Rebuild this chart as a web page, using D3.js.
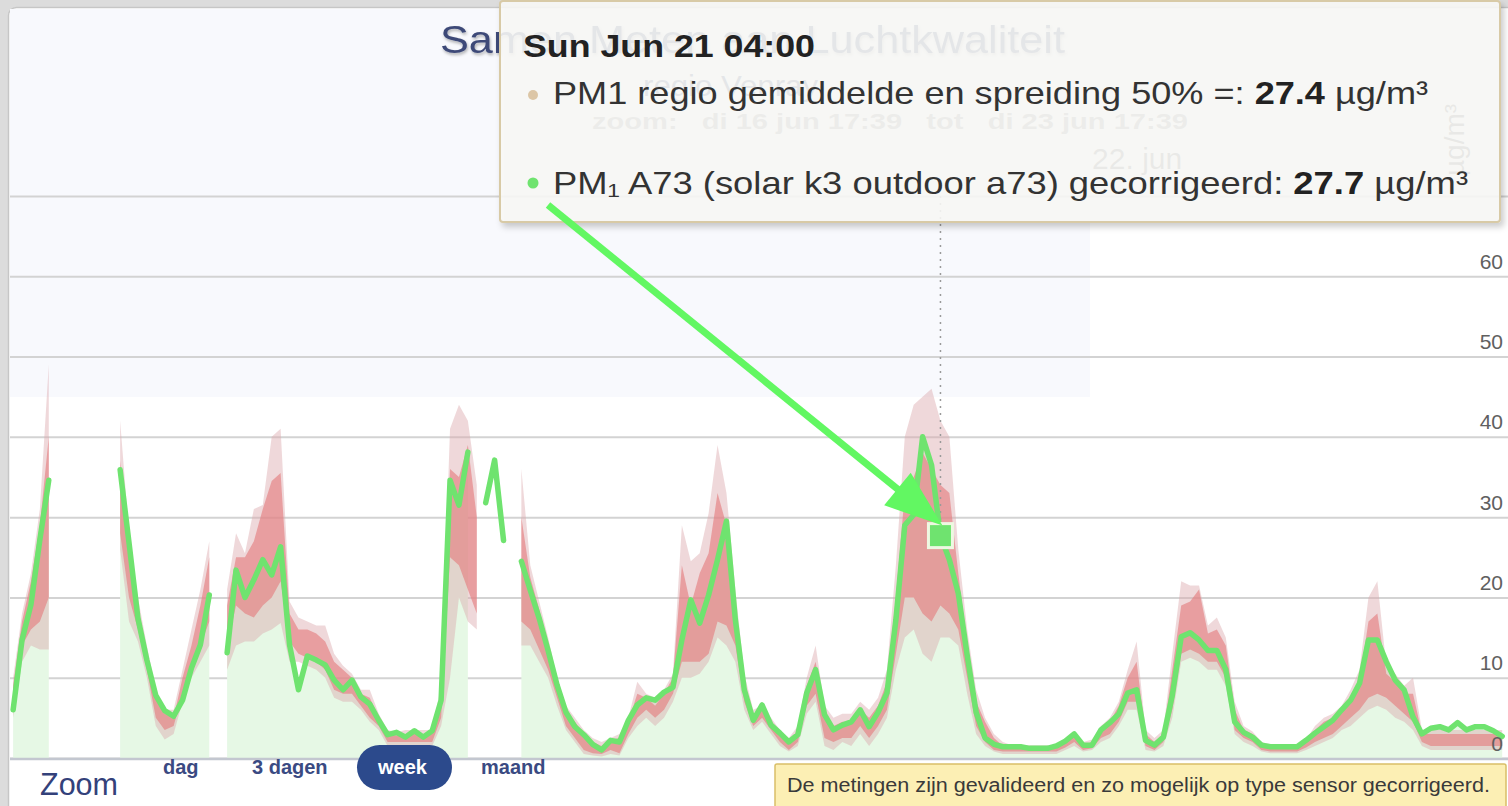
<!DOCTYPE html>
<html><head><meta charset="utf-8">
<script src="https://cdn.jsdelivr.net/npm/d3@7"></script>
<style>
html,body{margin:0;padding:0;background:#dcdcdc;overflow:hidden;}
svg{display:block;font-family:"Liberation Sans",Arial,sans-serif;}
</style></head><body>
<svg id="chart" width="1508" height="806"></svg>
<script>
// ---------- DATA ----------
const rangeStart = Date.UTC(2020, 5, 16, 17, 39);   // di 16 jun 17:39
const rangeEnd   = Date.UTC(2020, 5, 23, 17, 39);   // di 23 jun 17:39
const firstHour  = Date.UTC(2020, 5, 16, 18, 0);    // first hourly sample

// PM1 A73 (gecorrigeerd), hourly, µg/m³
const sensorA73 = [
  6.0, 14.7, 19.1, 27.2, 34.6,
  null, null, null, null, null, null, null,
  35.9, 26.8, 17.4, 12.2, 7.8, 5.9, 5.2, 7.2, 11.2, 14.1, 20.3,
  null,
  13.1, 23.4, 20.0, 22.2, 24.7, 22.8, 26.3, 14.1, 8.5, 12.7, 12.2, 11.6, 9.7, 8.5, 9.7, 7.6,
  6.7, 4.7, 2.9, 3.2, 2.6, 3.4, 2.6, 3.4, 7.2, 34.6, 31.5, 38.1,
  null,
  31.8, 37.1, 27.1,
  null,
  24.5, 20.9, 17.4, 13.4, 9.1, 5.7, 3.9, 2.9, 1.7, 1.0, 2.2, 2.0, 4.7,
  6.6, 7.5, 7.2, 8.2, 8.8, 14.7, 19.7, 16.8, 20.3, 24.7,
  29.5, 17.2, 8.5, 4.7, 6.6, 4.1, 3.1, 2.0, 2.9, 8.1,
  11.0, 5.4, 3.5, 4.1, 4.5, 6.0, 3.9, 5.7, 8.1, 17.2,
  29.0, 30.3, 40.0, 36.5, 27.7, 24.7, 20.5, 12.8, 5.7, 2.5,
  1.7, 1.4, 1.4, 1.4, 1.2, 1.2, 1.2, 1.5, 2.1, 3.0,
  1.6, 1.6, 3.5, 4.4, 5.5, 8.1, 8.5, 2.2, 1.6, 2.6,
  7.8, 15.1, 15.6, 14.7, 13.4, 13.4, 11.0, 4.5, 3.2, 2.6,
  1.6, 1.4, 1.4, 1.4, 1.4, 2.2, 3.1, 3.9, 4.7, 6.0,
  7.2, 9.3, 14.7, 14.7, 12.0, 9.7, 8.5, 5.1, 3.0, 3.7,
  3.9, 3.5, 4.4, 3.5, 3.9, 3.9, 3.4, 2.7
];

// PM1 regio: wide spread (low / high) and 50% spread (low / high), hourly
const regioOuterLo = [
  5, 12, 14, 13.5, 13.5,
  null, null, null, null, null, null, null,
  26, 17, 14.5, 10, 4, 2.3, 3, 7, 10, 12, 14,
  null,
  11, 14, 14.5, 14.5, 15.5, 16, 16.8, 12, 12, 11.5, 11, 10, 7.5, 7, 7, 6,
  4.5, 3.5, 1.5, 1.5, 1.5, 1.5, 1.5, 1.5, 4, 10, 20, 17,
  16,
  null, null, null, null,
  14, 14, 12, 10, 6.5, 3.5, 2, 0.5, 0.3, 0.2, 0.5, 0.3, 2.5,
  4, 5, 4, 5, 7, 10, 10, 10.5, 12, 15,
  14, 12, 6, 3.5, 4.5, 3, 1.5, 0.8, 1.5, 5.5,
  7, 1.5, 1, 2, 1.5, 3, 1.5, 3, 5, 11,
  15, 16, 13, 12, 15, 15, 14, 8, 3, 1.5,
  0.8, 0.5, 0.5, 0.5, 0.5, 0.5, 0.5, 0.5, 1, 1.5,
  0.8, 1, 2, 2.5, 4, 6, 6, 1, 0.8, 1.5,
  5, 12, 12.5, 12, 11, 11, 9, 3, 2, 1.5,
  0.8, 0.6, 0.6, 0.6, 0.6, 1, 1.5, 2, 2.5, 3.5,
  4, 5, 6, 6.5, 6, 5, 4.5, 3.5, 1.5, 1,
  1, 1, 1, 1, 1, 1, 1, 1
];
const regioInnerLo = [
  6, 14, 16, 17, 20,
  null, null, null, null, null, null, null,
  28, 20, 16, 11, 5, 3.5, 4, 8, 12, 14, 17,
  null,
  14, 19, 18, 17.5, 19, 20, 22, 14.5, 13, 12.5, 12, 11, 8.5, 8, 8, 6.5,
  5, 4, 2, 2, 2, 2, 2, 2, 5, 25, 24, 21,
  18,
  null, null, null, null,
  17, 16, 13.5, 11, 7.5, 4, 2.5, 1, 0.6, 0.5, 1, 0.6, 3,
  5, 6, 5, 6, 8, 12, 12, 12, 13, 17,
  16.5, 14, 7, 4, 5, 3.5, 2, 1, 2, 6.5,
  8, 2.5, 2, 2.5, 2.5, 4, 2.5, 4, 6, 13,
  20, 20, 18, 17, 19, 18, 16, 10, 4, 2,
  1, 0.8, 0.8, 0.8, 0.8, 0.8, 0.8, 0.8, 1.3, 2,
  1, 1.2, 2.5, 3, 4.5, 7, 7, 1.5, 1, 2,
  6, 13, 13.5, 13, 12, 12, 10, 3.5, 2.5, 2,
  1, 0.8, 0.8, 0.8, 0.8, 1.3, 2, 2.5, 3, 4,
  5, 6, 7.5, 8, 7.5, 6.5, 5.5, 4.5, 2, 1.5,
  1.5, 1.5, 1.5, 1.5, 1.5, 1.5, 1.5, 1.5
];
const regioInnerHi = [
  9, 17, 22, 29, 40,
  null, null, null, null, null, null, null,
  37, 26, 19, 13, 8, 5.5, 5, 10, 14, 19, 25,
  null,
  19, 25, 25, 27, 31, 34.5, 35.5, 18, 16, 16, 15.5, 14.5, 12, 11, 10, 8,
  7.5, 5, 3, 2.8, 3, 3, 3, 3, 8, 36, 35, 39,
  30,
  null, null, null, null,
  30, 22.5, 18.5, 14, 9.5, 6, 4.5, 3, 2, 1.5, 2.2, 2.5, 4.5,
  8, 7.5, 6.5, 8, 10, 24, 19, 23, 25.5, 33,
  29, 19, 9.5, 5.5, 6, 4.5, 3, 2, 3.5, 9,
  12, 5.5, 4, 4.5, 4.5, 6, 5, 6.5, 9.5, 20,
  33, 35, 38, 36, 34, 33, 23, 14, 7, 4.5,
  2.5, 1.5, 1.3, 1.3, 1.3, 1.3, 1.3, 1.3, 2, 3,
  1.6, 2, 3.5, 4.5, 6.5, 10, 12, 3, 2, 3,
  11, 19, 19.5, 21, 15.5, 16, 14, 6, 3.5, 3,
  1.8, 1.4, 1.4, 1.4, 1.4, 2, 3.5, 4.5, 5, 6,
  7.5, 9.5, 17, 18, 10.5, 9.5, 8, 8, 3, 3,
  3, 3, 3, 3, 3, 3, 3, 3
];
const regioOuterHi = [
  10, 18, 23, 31, 49,
  null, null, null, null, null, null, null,
  42, 28, 20, 14, 8.5, 6, 6, 11, 16, 21, 27,
  null,
  21, 28, 25.5, 31, 31.5, 40, 41, 19.5, 17.5, 17, 16.5, 16.5, 13, 11.5, 10.5, 8.5,
  8.5, 5.5, 3.5, 3.2, 3.5, 3.5, 3.5, 3.5, 9, 41, 44, 42,
  34,
  null, null, null, null,
  36, 24, 19.5, 15, 10, 6.5, 5, 3.5, 2.5, 2, 2.5, 3, 5,
  9.5, 8, 7.5, 8.5, 10.5, 29, 24.5, 25.5, 30.5, 39,
  33, 21, 10.5, 6, 6.5, 5, 3.5, 2.5, 4, 10,
  14, 6.5, 5, 5.5, 5.5, 7, 6, 7.5, 11, 24,
  40, 44, 45, 46, 42, 40, 26, 16, 8.5, 5,
  3, 2, 1.6, 1.6, 1.6, 1.6, 1.6, 1.6, 2.3, 3.3,
  2, 2.3, 4, 5, 7, 11, 14.5, 3.5, 2.5, 3.5,
  13, 22, 21.5, 21.5, 16.5, 17.5, 15, 7, 4, 3.3,
  2, 1.7, 1.7, 1.7, 1.7, 2.3, 4, 5, 5.5, 6.5,
  8.5, 11, 20, 22, 11.5, 10.5, 9, 10, 3.5, 3.5,
  3.5, 3.5, 3.5, 3.5, 3.5, 3.5, 3.5, 3.5
];

const yTicks = [0, 10, 20, 30, 40, 50, 60, 70];
const yTickLabels = ["0", "10", "20", "30", "40", "50", "60", ""];
const xTickDates = [Date.UTC(2020, 5, 22)];
const xTickLabels = ["22. jun"];
const zoomButtons = ["dag", "3 dagen", "week", "maand"];
const activeZoom = "week";

const hoverIndex = 104;
const tooltipTitle = "Sun Jun 21 04:00";
const tooltipRegioName = "PM1 regio gemiddelde en spreiding 50% =: ";
const tooltipRegioValue = "27.4";
const tooltipSensorName = "PM\u2081 A73 (solar k3 outdoor a73) gecorrigeerd: ";
const tooltipSensorValue = "27.7";
const unit = " µg/m³";

const titleText = "Samen Meten aan Luchtkwaliteit";
const subtitleText = "regio Venray";
const zoomRangeText = "zoom:   di 16 jun 17:39   tot   di 23 jun 17:39";
const footerText = "De metingen zijn gevalideerd en zo mogelijk op type sensor gecorrigeerd.";

// ---------- DRAW ----------
const times = sensorA73.map((_, i) => new Date(firstHour + i * 3600e3));
const idx = d3.range(sensorA73.length);

const W = 1508, H = 806;
const svg = d3.select("#chart");
const x = d3.scaleUtc().domain([rangeStart, rangeEnd]).range([10, 1508]);
const y = d3.scaleLinear().domain([0, 70]).range([758, 196]);

const defs = svg.append("defs");
const sh = defs.append("filter").attr("id", "tipShadow")
  .attr("x", "-5%").attr("y", "-10%").attr("width", "112%").attr("height", "130%");
sh.append("feDropShadow").attr("dx", 3).attr("dy", 4).attr("stdDeviation", 3)
  .attr("flood-color", "#000").attr("flood-opacity", 0.22);
const tsh = defs.append("filter").attr("id", "titleShadow");
tsh.append("feDropShadow").attr("dx", 1).attr("dy", 2).attr("stdDeviation", 1.5)
  .attr("flood-color", "#000").attr("flood-opacity", 0.3);
defs.append("clipPath").attr("id", "plotClip").append("rect")
  .attr("x", 10).attr("y", 150).attr("width", 1498).attr("height", 610);

// page and chart container
svg.append("rect").attr("width", W).attr("height", H).attr("fill", "#dcdcdc");
svg.append("rect").attr("x", 8.5).attr("y", 7.5).attr("width", 1530).attr("height", 860)
  .attr("rx", 8).attr("fill", "#ffffff").attr("stroke", "#c6c6c6").attr("stroke-width", 1.5);
svg.append("rect").attr("x", 10).attr("y", 9).attr("width", 1080).attr("height", 388)
  .attr("fill", "#f8f9fd");

// titles
svg.append("text").attr("x", 440).attr("y", 53)
  .attr("font-size", 38).attr("fill", "#3e4a78").attr("filter", "url(#titleShadow)")
  .attr("textLength", 625).attr("lengthAdjust", "spacingAndGlyphs")
  .text(titleText);
svg.append("text").attr("x", 643).attr("y", 96)
  .attr("font-size", 30).attr("fill", "#3e4a78")
  .attr("textLength", 175).attr("lengthAdjust", "spacingAndGlyphs")
  .text(subtitleText);
svg.append("text").attr("x", 592).attr("y", 129)
  .attr("font-size", 22).attr("font-weight", "bold").attr("fill", "#8a8a8a")
  .style("white-space", "pre")
  .attr("textLength", 596).attr("lengthAdjust", "spacingAndGlyphs")
  .text(zoomRangeText);

// top x axis label
const xTop = svg.append("g").attr("transform", "translate(0,172)")
  .call(d3.axisTop(x).tickValues(xTickDates.map(d => new Date(d)))
    .tickFormat((d, i) => xTickLabels[i]).tickSize(0).tickPadding(3));
xTop.select(".domain").remove();
xTop.selectAll("text").attr("font-size", 30).attr("fill", "#707070")
  .attr("font-family", "Liberation Sans, Arial, sans-serif");

// y axis title
svg.append("text").attr("transform", "translate(1464,140) rotate(-90)")
  .attr("text-anchor", "middle").attr("font-size", 28).attr("fill", "#666")
  .text("µg/m³");

// gridlines
const grid = svg.append("g").attr("transform", "translate(10,0)")
  .call(d3.axisRight(y).tickValues(yTicks).tickSize(1498).tickFormat(""));
grid.select(".domain").remove();
grid.selectAll("line").attr("stroke", "#d3d3d3").attr("stroke-width", 2);

// series
const plot = svg.append("g").attr("clip-path", "url(#plotClip)");
const hasAll = i => sensorA73[i] != null && regioOuterLo[i] != null;
plot.append("path").datum(idx)
  .attr("d", d3.area().defined(hasAll).x(i => x(times[i])).y0(y(0)).y1(i => y(sensorA73[i])))
  .attr("fill", "#e6f8e5");
plot.append("path").datum(idx)
  .attr("d", d3.area().defined(i => regioOuterLo[i] != null).x(i => x(times[i]))
    .y0(i => y(regioOuterLo[i])).y1(i => y(regioOuterHi[i])))
  .attr("fill", "rgb(220,168,174)").attr("fill-opacity", 0.45);
plot.append("path").datum(idx)
  .attr("d", d3.area().defined(i => regioInnerLo[i] != null).x(i => x(times[i]))
    .y0(i => y(regioInnerLo[i])).y1(i => y(regioInnerHi[i])))
  .attr("fill", "rgb(228,122,124)").attr("fill-opacity", 0.62);

// crosshair
const hx = x(times[hoverIndex]), hy = y(sensorA73[hoverIndex]);
plot.append("line").attr("x1", hx).attr("x2", hx).attr("y1", y(70)).attr("y2", hy)
  .attr("stroke", "#9a9a9a").attr("stroke-width", 1.5).attr("stroke-dasharray", "2,5");

plot.append("path").datum(idx)
  .attr("d", d3.line().defined(i => sensorA73[i] != null).x(i => x(times[i])).y(i => y(sensorA73[i])))
  .attr("fill", "none").attr("stroke", "#6fe36f").attr("stroke-width", 5.5)
  .attr("stroke-linejoin", "round").attr("stroke-linecap", "round");

// y labels
const yl = svg.append("g").attr("transform", "translate(1503,0)")
  .call(d3.axisLeft(y).tickValues(yTicks).tickFormat((d, i) => yTickLabels[i]).tickSize(0).tickPadding(0));
yl.select(".domain").remove();
yl.selectAll("text").attr("dy", null).attr("y", -8).attr("font-size", 21).attr("fill", "#606060")
  .attr("font-family", "Liberation Sans, Arial, sans-serif");

// x axis line
svg.append("line").attr("x1", 10).attr("x2", 1508).attr("y1", y(0) + 1).attr("y2", y(0) + 1)
  .attr("stroke", "#c3c7d0").attr("stroke-width", 2.5);

// hover marker
svg.append("rect").attr("x", hx - 12).attr("y", hy - 12).attr("width", 24).attr("height", 24)
  .attr("fill", "#6fe36f").attr("stroke", "#eef8e2").attr("stroke-width", 3);

// tooltip
const tip = svg.append("g");
tip.append("rect").attr("x", 500).attr("y", 1).attr("width", 1000).attr("height", 221).attr("rx", 3)
  .attr("fill", "rgba(249,249,247,0.88)").attr("stroke", "#d8caa6").attr("stroke-width", 2)
  .attr("filter", "url(#tipShadow)");
tip.append("text").attr("x", 523).attr("y", 57).attr("font-size", 32).attr("font-weight", "bold")
  .attr("fill", "#222").attr("textLength", 292).attr("lengthAdjust", "spacingAndGlyphs")
  .text(tooltipTitle);
tip.append("circle").attr("cx", 533).attr("cy", 95).attr("r", 5).attr("fill", "#dcc6a6");
const r1 = tip.append("text").attr("x", 553).attr("y", 104).attr("font-size", 32).attr("fill", "#333")
  .attr("textLength", 875).attr("lengthAdjust", "spacingAndGlyphs");
r1.append("tspan").text(tooltipRegioName);
r1.append("tspan").attr("font-weight", "bold").attr("fill", "#222").text(tooltipRegioValue);
r1.append("tspan").text(unit);
tip.append("circle").attr("cx", 533).attr("cy", 183).attr("r", 5.5).attr("fill", "#6fe36f");
const r2 = tip.append("text").attr("x", 553).attr("y", 194).attr("font-size", 32).attr("fill", "#333")
  .attr("textLength", 915).attr("lengthAdjust", "spacingAndGlyphs");
r2.append("tspan").text(tooltipSensorName);
r2.append("tspan").attr("font-weight", "bold").attr("fill", "#222").text(tooltipSensorValue);
r2.append("tspan").text(unit);

// annotation arrow pointing to hovered point
const ax0 = 548, ay0 = 205;
const tipX = hx + 2, tipY = hy - 10;
const dx = tipX - ax0, dy = tipY - ay0, len = Math.hypot(dx, dy);
const ux = dx / len, uy = dy / len, headL = 58, headW = 21;
const bx = tipX - ux * headL, by = tipY - uy * headL;
svg.append("line").attr("x1", ax0).attr("y1", ay0).attr("x2", bx + ux * 4).attr("y2", by + uy * 4)
  .attr("stroke", "#62f762").attr("stroke-width", 7);
svg.append("polygon")
  .attr("points", [[tipX, tipY], [bx - uy * headW, by + ux * headW], [bx + uy * headW, by - ux * headW]].map(p => p.join(",")).join(" "))
  .attr("fill", "#62f762");

// range selector
svg.append("text").attr("x", 40).attr("y", 795).attr("font-size", 31).attr("fill", "#33417a")
  .attr("textLength", 78).attr("lengthAdjust", "spacingAndGlyphs").text("Zoom");
const btnX = [163, 252, 378, 481];
zoomButtons.forEach((b, i) => {
  if (b === activeZoom) {
    svg.append("rect").attr("x", 357).attr("y", 745).attr("width", 95).attr("height", 45).attr("rx", 22.5)
      .attr("fill", "#2c4a8c");
  }
  svg.append("text").attr("x", btnX[i]).attr("y", 774).attr("font-size", 20).attr("font-weight", "bold")
    .attr("fill", b === activeZoom ? "#ffffff" : "#3a4a82").text(b);
});

// footer note
svg.append("rect").attr("x", 775).attr("y", 764).attr("width", 731).attr("height", 60).attr("rx", 2)
  .attr("fill", "#fcefb4").attr("stroke", "#d9bf68").attr("stroke-width", 1.5);
svg.append("text").attr("x", 787).attr("y", 792).attr("font-size", 20).attr("fill", "#3a3a3a")
  .attr("textLength", 703).attr("lengthAdjust", "spacingAndGlyphs").text(footerText);
</script>
</body></html>
